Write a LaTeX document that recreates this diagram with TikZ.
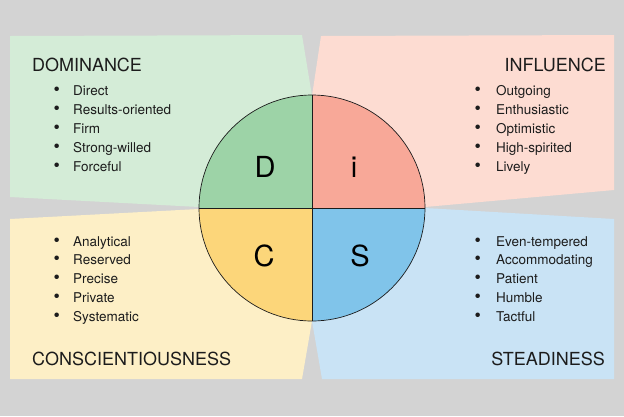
\documentclass[tikz,border=0pt]{standalone}
\usepackage{fontspec}
\setmainfont{TeX Gyre Heros}
\definecolor{bggray}{HTML}{D3D3D3}
\definecolor{dpanel}{HTML}{D4ECD7}
\definecolor{ipanel}{HTML}{FDDCD2}
\definecolor{cpanel}{HTML}{FDEFC6}
\definecolor{spanel}{HTML}{C9E3F5}
\definecolor{dfill}{HTML}{9DD3A7}
\definecolor{ifill}{HTML}{F8A898}
\definecolor{cfill}{HTML}{FCD67A}
\definecolor{sfill}{HTML}{80C4EA}
\definecolor{inkgray}{HTML}{1C1C1C}
\newcommand{\traitdot}{\makebox[19pt][l]{\hspace{-0.6pt}\fontsize{18}{16}\selectfont\textbullet}}
\begin{document}
\begin{tikzpicture}[x=1pt,y=1pt,
  title/.style={inner sep=0pt, text=inkgray, font=\fontsize{18}{18}\selectfont},
  trait/.style={inner sep=0pt, anchor=base west, text=inkgray, font=\fontsize{13.5}{16}\selectfont},
  letter/.style={inner sep=0pt, text=black, font=\fontsize{29}{29}\selectfont}]
\useasboundingbox (0,0) rectangle (624,-416);
\fill[bggray] (0,0) rectangle (624,-416);

% panels
\fill[dpanel] (10,-36) -- (302,-35) -- (312,-96) -- (312,-208) -- (199,-207) -- (10,-197) -- cycle;
\fill[ipanel] (321,-36) -- (614,-35) -- (614,-190) -- (425,-207) -- (312,-208) -- (312,-96) -- cycle;
\fill[cpanel] (10,-219) -- (199,-209) -- (312,-208) -- (312,-321) -- (302,-379) -- (10,-379) -- cycle;
\fill[spanel] (312,-208) -- (425,-208) -- (614,-219) -- (614,-379) -- (322,-379) -- (312,-321) -- cycle;

% circle
\coordinate (c) at (312,-208);
\fill[dfill] (c) -- ++(-113,0) arc (180:90:113) -- cycle;
\fill[ifill] (c) -- ++(0,113) arc (90:0:113) -- cycle;
\fill[sfill] (c) -- ++(113,0) arc (0:-90:113) -- cycle;
\fill[cfill] (c) -- ++(0,-113) arc (270:180:113) -- cycle;
\draw[line width=0.7pt, inkgray] (c) circle (113);
\draw[line width=0.7pt, inkgray] (c) ++(-113,0) -- ++(226,0);
\draw[line width=0.7pt, inkgray] (c) ++(0,113) -- ++(0,-226);

\node[letter] (dletter) at (265,-167) {D};
\node[letter] (iletter) at (354,-167) {i};
\node[letter] (cletter) at (264,-256) {C};
\node[letter] (sletter) at (360,-256) {S};

% titles
\node[title, anchor=base west] (dtitle) at (32,-71) {DOMINANCE};
\node[title, anchor=base east] (ititle) at (606,-71) {INFLUENCE};
\node[title, anchor=base west] (ctitle) at (32,-365) {CONSCIENTIOUSNESS};
\node[title, anchor=base east] (stitle) at (605,-365) {STEADINESS};

% trait lists
\foreach \t [count=\k] in {Direct,Results-oriented,Firm,Strong-willed,Forceful}
  \node[trait] (d\k) at (54,{-95-19*(\k-1)}) {\traitdot\t};
\foreach \t [count=\k] in {Outgoing,Enthusiastic,Optimistic,High-spirited,Lively}
  \node[trait] (i\k) at (475,{-95-19*(\k-1)}) {\traitdot\hspace{2pt}\t};
\foreach \t [count=\k] in {Analytical,Reserved,Precise,Private,Systematic}
  \node[trait] (c\k) at (54,{-246-18.8*(\k-1)}) {\traitdot\t};
\foreach \t [count=\k] in {Even-tempered,Accommodating,Patient,Humble,Tactful}
  \node[trait] (s\k) at (475,{-246-18.8*(\k-1)}) {\traitdot\hspace{2pt}\t};
\end{tikzpicture}
\end{document}
